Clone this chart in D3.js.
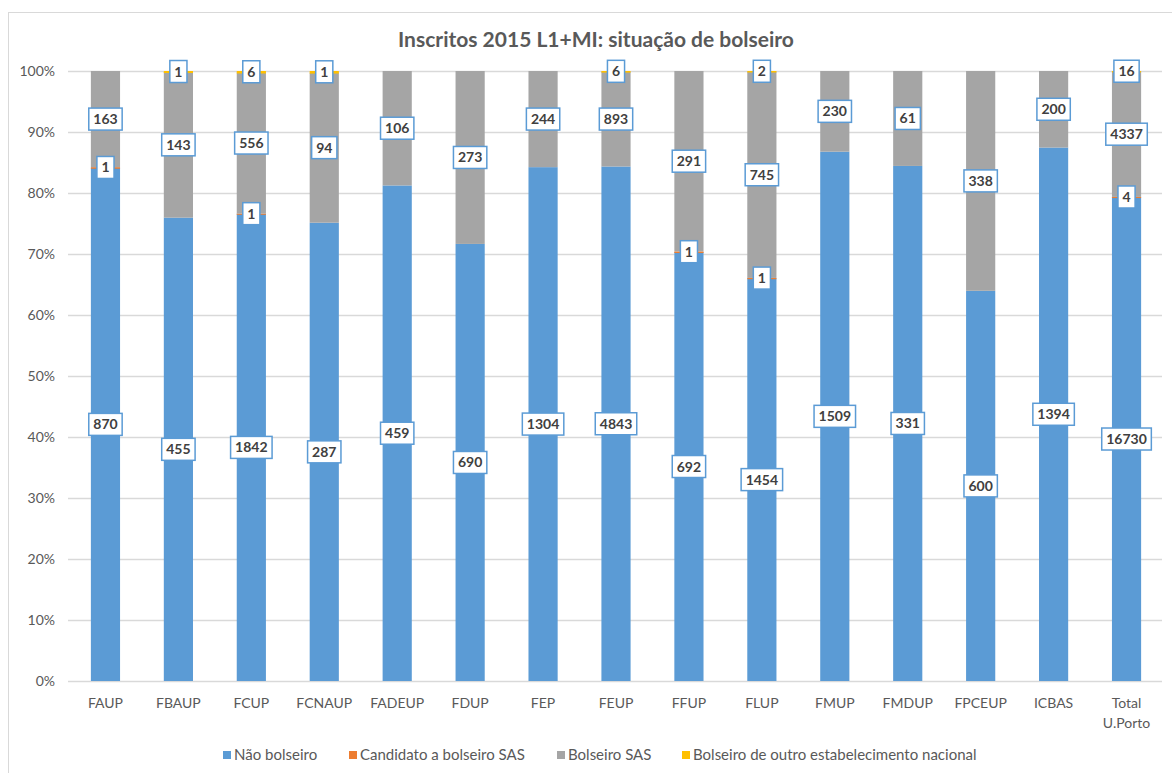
<!DOCTYPE html>
<html>
<head>
<meta charset="utf-8">
<script src="https://cdn.jsdelivr.net/npm/d3@7"></script>
<style>
  body { margin: 0; background: #fff; }
  text { font-family: Lato, "Open Sans", sans-serif; }
</style>
</head>
<body>
<svg width="1172" height="773"></svg>
<script>
// dados
const categories = ['FAUP', 'FBAUP', 'FCUP', 'FCNAUP', 'FADEUP', 'FDUP', 'FEP', 'FEUP', 'FFUP', 'FLUP', 'FMUP', 'FMDUP', 'FPCEUP', 'ICBAS', 'Total U.Porto']
const seriesNames = ['Não bolseiro', 'Candidato a bolseiro SAS', 'Bolseiro SAS', 'Bolseiro de outro estabelecimento nacional']
const naoBolseiro = [870, 455, 1842, 287, 459, 690, 1304, 4843, 692, 1454, 1509, 331, 600, 1394, 16730]
const candidatoSAS = [1, 0, 1, 0, 0, 0, 0, 0, 1, 1, 0, 0, 0, 0, 4]
const bolseiroSAS = [163, 143, 556, 94, 106, 273, 244, 893, 291, 745, 230, 61, 338, 200, 4337]
const bolseiroOutro = [0, 1, 6, 1, 0, 0, 0, 6, 0, 2, 0, 0, 0, 0, 16]
const yTicks = [0, 0.1, 0.2, 0.3, 0.4, 0.5, 0.6, 0.7, 0.8, 0.9, 1]
const colors = ['#5b9bd5', '#ed7d31', '#a5a5a5', '#ffc000']

let svg = d3.select('svg')

// moldura do gráfico
svg.append('rect')
  .attr('x', 8.5).attr('y', 12.5)
  .attr('width', 1200).attr('height', 800)
  .attr('fill', '#fff')
  .attr('stroke', '#d9d9d9')

// título
svg.append('text')
  .attr('x', 596).attr('y', 47)
  .attr('text-anchor', 'middle')
  .attr('font-size', 21)
  .attr('font-weight', 'bold')
  .attr('fill', '#595959')
  .text('Inscritos 2015 L1+MI: situação de bolseiro')

let x = d3.scaleBand().domain(categories).range([69, 1163]).paddingInner(0.6).paddingOuter(0.3)
let y = d3.scaleLinear().domain([0, 1]).range([681, 71])

// grelha
svg.append('g')
  .selectAll('line')
  .data(yTicks)
  .enter()
  .append('line')
  .attr('x1', 68).attr('x2', 1162)
  .attr('y1', d => Math.round(y(d)) + 0.5)
  .attr('y2', d => Math.round(y(d)) + 0.5)
  .attr('stroke', '#d9d9d9')
  .attr('stroke-width', 1.3)

// eixo y
svg.append('g')
  .selectAll('text')
  .data(yTicks)
  .enter()
  .append('text')
  .attr('x', 55)
  .attr('y', d => y(d) + 5)
  .attr('text-anchor', 'end')
  .attr('font-size', 14)
  .attr('fill', '#595959')
  .text(d3.format('.0%'))

// empilhar
let rows = categories.map((c, i) => ({
  cat: c,
  v: [naoBolseiro[i], candidatoSAS[i], bolseiroSAS[i], bolseiroOutro[i]]
}))
let segs = []
rows.forEach(r => {
  let total = d3.sum(r.v)
  let acc = 0
  r.v.forEach((v, k) => {
    segs.push({ cat: r.cat, k: k, value: v, y0: acc / total, y1: (acc + v) / total })
    acc += v
  })
})

svg.append('g')
  .selectAll('rect')
  .data(segs)
  .enter()
  .append('rect')
  .attr('x', d => x(d.cat))
  .attr('width', x.bandwidth())
  .attr('y', d => y(d.y1))
  .attr('height', d => Math.max(0, y(d.y0) - y(d.y1)) + (d.value > 0 && d.k % 2 === 1 ? 1 : 0))
  .attr('fill', d => colors[d.k])

// eixo x
let xl = svg.append('g')
  .selectAll('text')
  .data(categories)
  .enter()
  .append('text')
  .attr('x', d => x(d) + x.bandwidth() / 2)
  .attr('y', 708)
  .attr('text-anchor', 'middle')
  .attr('font-size', 14)
  .attr('fill', '#595959')
xl.each(function (d) {
  let parts = d.split(' ')
  d3.select(this).selectAll('tspan')
    .data(parts)
    .enter()
    .append('tspan')
    .attr('x', x(d) + x.bandwidth() / 2)
    .attr('dy', (p, i) => i === 0 ? 0 : 20)
    .text(p => p)
})

// rótulos de dados
let labels = svg.append('g')
  .selectAll('g')
  .data(segs.filter(d => d.value > 0))
  .enter()
  .append('g')
  .attr('transform', d => 'translate(' + (x(d.cat) + x.bandwidth() / 2) + ',' + y((d.y0 + d.y1) / 2) + ')')
labels.append('text')
  .attr('text-anchor', 'middle')
  .attr('y', 5)
  .attr('font-size', 14)
  .attr('font-weight', 'bold')
  .attr('fill', '#404040')
  .text(d => d.value)
labels.each(function () {
  let g = d3.select(this)
  let bb = g.select('text').node().getBBox()
  let w = bb.width + 9
  g.insert('rect', 'text')
    .attr('x', -w / 2).attr('y', -11)
    .attr('width', w).attr('height', 22)
    .attr('fill', '#fff')
    .attr('stroke', '#5b9bd5')
    .attr('stroke-width', 1.5)
})

// legenda
let legendX = [223, 349, 557, 682]
let lg = svg.append('g')
  .selectAll('g')
  .data(seriesNames)
  .enter()
  .append('g')
  .attr('transform', (d, i) => 'translate(' + legendX[i] + ',751)')
lg.append('rect')
  .attr('width', 8).attr('height', 8)
  .attr('fill', (d, i) => colors[i])
lg.append('text')
  .attr('x', 11).attr('y', 9)
  .attr('font-size', 15)
  .attr('fill', '#595959')
  .text(d => d)
</script>
</body>
</html>
